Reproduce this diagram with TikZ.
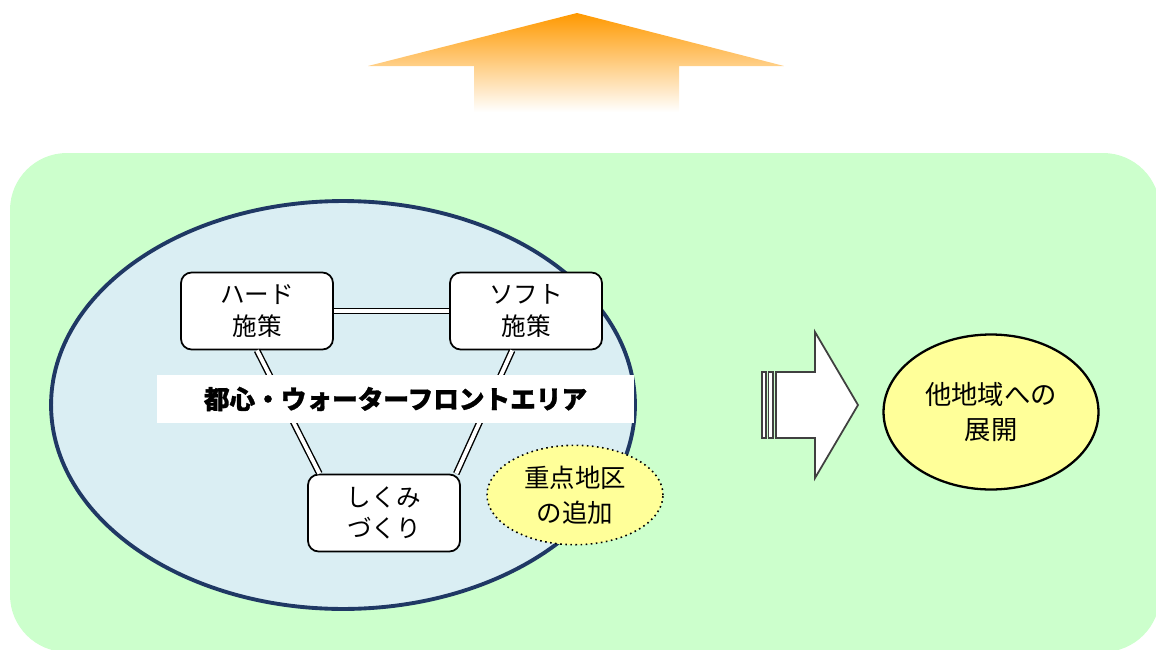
\documentclass[tikz,border=0pt]{standalone}
\usepackage{fontspec}
\setmainfont{Noto Sans CJK JP}
\usetikzlibrary{shapes.geometric,calc}
\definecolor{bggreen}{HTML}{CCFFCC}
\definecolor{areablue}{HTML}{DAEEF3}
\definecolor{areaedge}{HTML}{1F3864}
\definecolor{noteyellow}{HTML}{FFFF99}
\definecolor{uporange}{HTML}{FF9900}
\definecolor{arrowgray}{HTML}{404040}

\tikzset{
  measure/.style={draw=black,fill=white,rounded corners=6pt,line width=1pt,
    minimum width=3.04cm,minimum height=1.54cm,align=center,
    font=\fontsize{14}{18}\selectfont},
  link/.style={double,double distance=2.2pt,line width=0.8pt},
  goal/.style={ellipse,draw=black,fill=noteyellow,line width=1.3pt,
    minimum width=4.3cm,minimum height=3.1cm,align=center,
    font=\fontsize{15}{20}\selectfont},
}

\begin{document}
\begin{tikzpicture}[x=0.02cm,y=-0.02cm]
\useasboundingbox (0,0) rectangle (1156,649);
% upward arrow
\shade[top color=uporange,bottom color=white] (577,13) -- (784,66) -- (679,66) -- (679,112) -- (474,112) -- (474,66) -- (368,66) -- cycle;
% green area
\fill[bggreen,rounded corners=1.14cm] (10,153) rectangle (1160,652);
% waterfront area
\node[ellipse,draw=areaedge,fill=areablue,line width=2.2pt,minimum width=11.68cm,minimum height=8.16cm] (area) at (343,405) {};
\node[measure] (hard) at (257,311) {ハード\\施策};
\node[measure] (soft) at (526,311) {ソフト\\施策};
\node[measure] (shikumi) at (384,513) {しくみ\\づくり};
\draw[link] (hard) -- (soft);
\draw[link] (hard.south) -- ($(shikumi.north west)!0.08!(shikumi.north east)$);
\draw[link] ($(soft.south west)!0.41!(soft.south east)$) -- ($(shikumi.north west)!0.97!(shikumi.north east)$);
\node[fill=white,minimum width=9.54cm,minimum height=0.96cm,font=\fontsize{14.6}{18}\selectfont\bfseries\addfontfeature{FakeBold=1.2}] (banner) at (395.5,399) {都心・ウォーターフロントエリア};
\node[ellipse,draw=black,dotted,fill=noteyellow,line width=0.9pt,minimum width=3.52cm,minimum height=1.92cm,align=center,font=\fontsize{14.5}{20}\selectfont] (focus) at (575,495) {重点地区\\の追加};
% right arrow
\filldraw[fill=white,draw=arrowgray,line width=1pt] (776,372) -- (815,372) -- (815,332) -- (858,405) -- (815,478) -- (815,438) -- (776,438) -- cycle;
\filldraw[fill=white,draw=arrowgray,line width=1pt] (762,372) rectangle (766,438);
\filldraw[fill=white,draw=arrowgray,line width=1pt] (768.5,372) rectangle (773,438);
\node[goal] (spread) at (991,412) {他地域への\\展開};
\end{tikzpicture}
\end{document}
